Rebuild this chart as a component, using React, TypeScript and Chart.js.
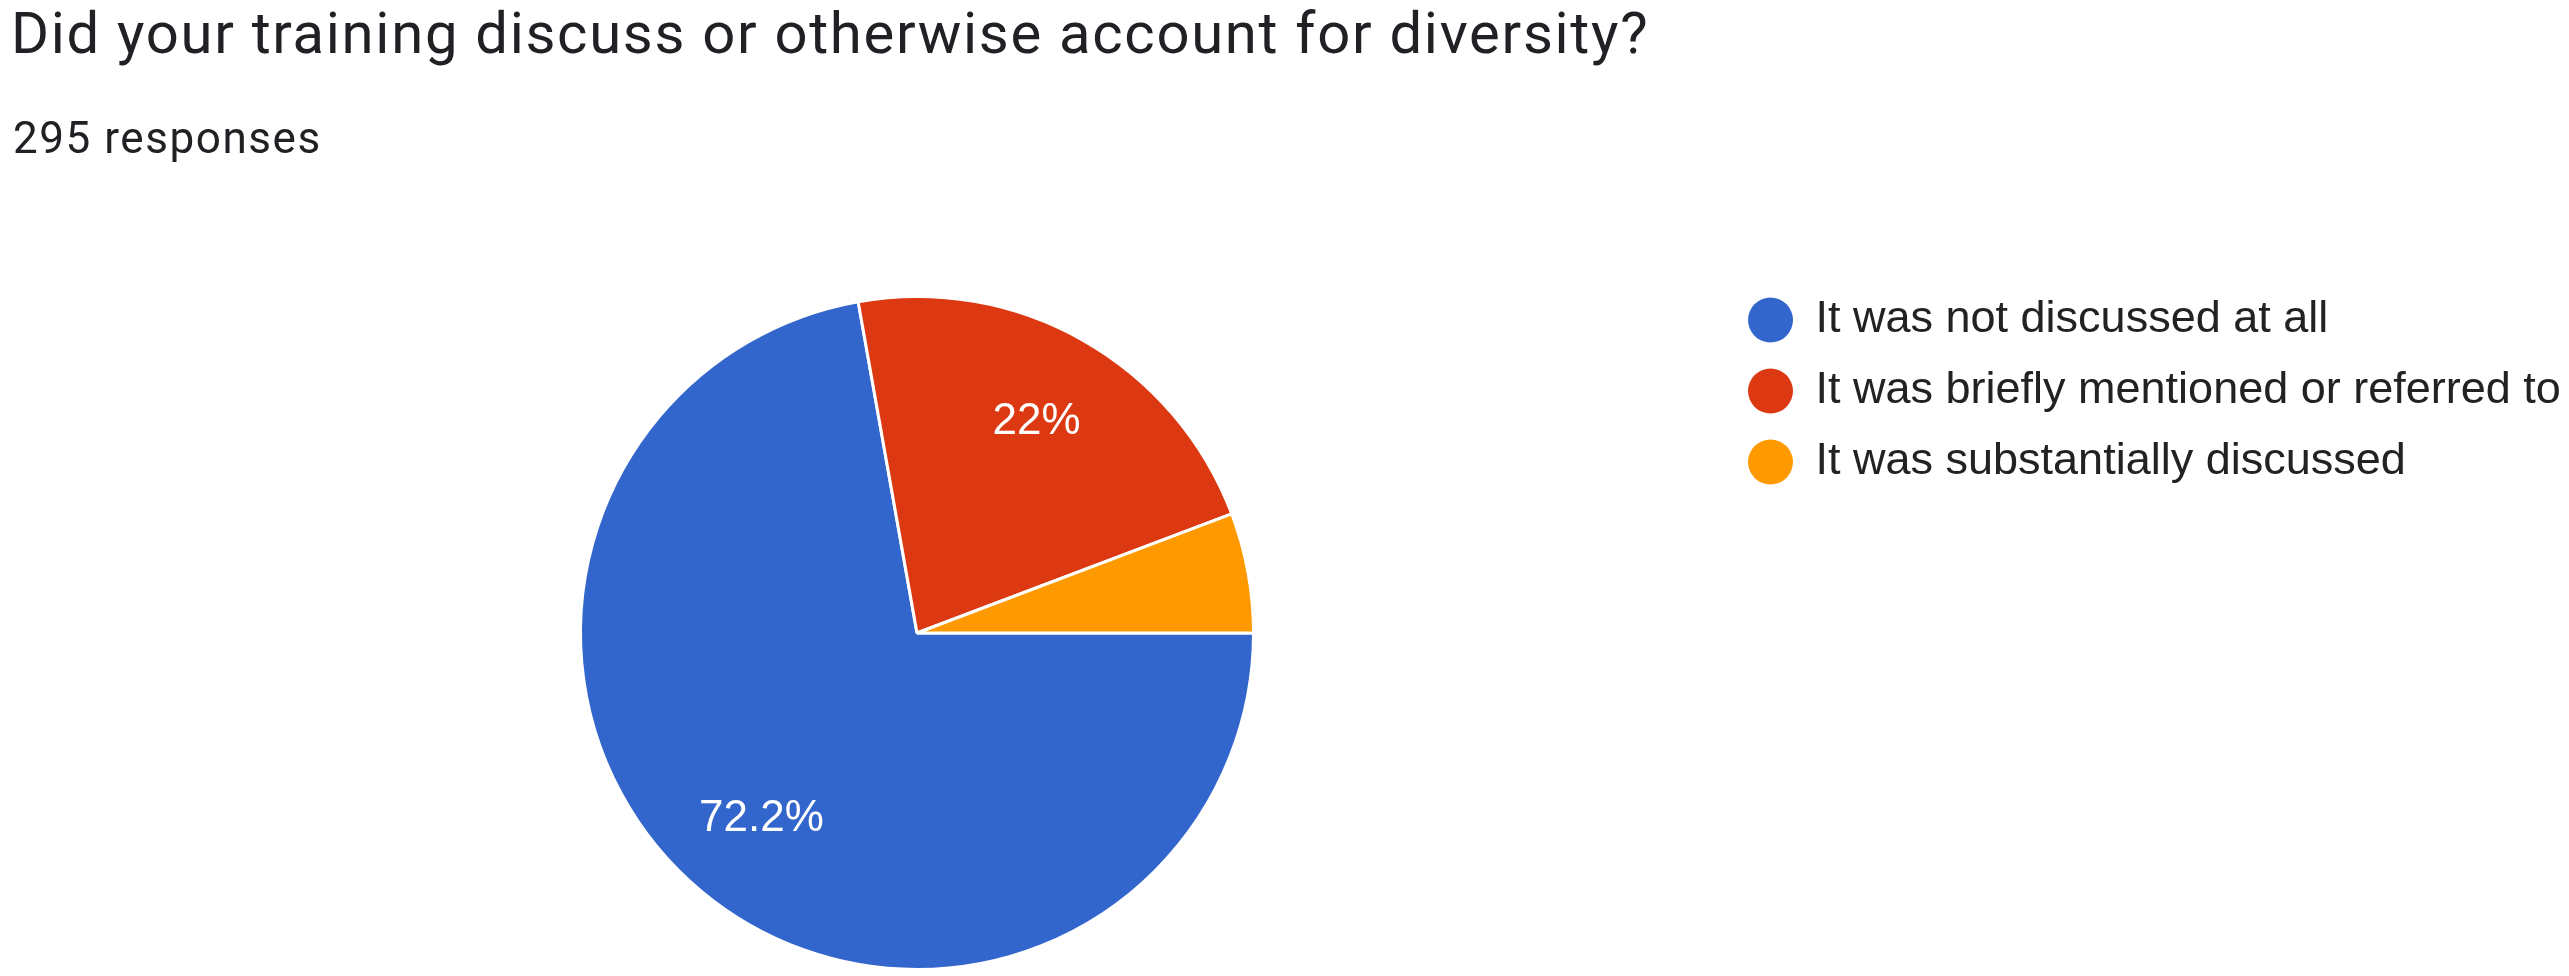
import React, { useEffect, useRef } from "react";
import { Chart, registerables, DoughnutController } from "chart.js";

Chart.register(...registerables);

const TITLE = "Did your training discuss or otherwise account for diversity?";
const SUBTITLE = "295 responses";
const categories = [
  "It was not discussed at all",
  "It was briefly mentioned or referred to",
  "It was substantially discussed",
];
const responseCounts = [213, 65, 17];
const sliceColors = ["#3366CC", "#DC3912", "#FF9900"];

const CANVAS_W = 2600;
const CANVAS_H = 1000;
const LEGEND_FONT_SIZE = 45;
const LEGEND_ROW_PAD = 26;
const LEGEND_BOX = 45;
const PIE_CX = 917;
const PIE_CY = 633;
const PIE_RADIUS = 336.5;
const LEGEND_TOP = 271.5;
const LEGEND_CIRCLE_CX = 1770.5;
const FONT_FAMILY = "'Liberation Sans', Arial, sans-serif";

const sliceLabelPlugin = {
  id: "sliceLabels",
  afterDatasetsDraw(chart: any) {
    const meta = chart.getDatasetMeta(0);
    const values = chart.data.datasets[0].data as number[];
    const total = values.reduce((a, b) => a + b, 0);
    const ctx = chart.ctx as CanvasRenderingContext2D;
    ctx.save();
    ctx.font = `44px ${FONT_FAMILY}`;
    ctx.fillStyle = "#ffffff";
    ctx.textAlign = "center";
    ctx.textBaseline = "middle";
    meta.data.forEach((arc: any, i: number) => {
      const pct = (values[i] / total) * 100;
      if (pct < 10) return;
      const p = arc.getProps(["x", "y", "startAngle", "endAngle", "outerRadius"], true);
      const mid = (p.startAngle + p.endAngle) / 2;
      const r = p.outerRadius * 0.72;
      ctx.fillText(`${+pct.toFixed(1)}%`, p.x + Math.cos(mid) * r, p.y + Math.sin(mid) * r);
    });
    ctx.restore();
  },
};

function PieChart() {
  const ref = useRef<HTMLCanvasElement | null>(null);
  useEffect(() => {
    const canvas = ref.current!;
    const mctx = canvas.getContext("2d")!;
    mctx.font = `normal ${LEGEND_FONT_SIZE}px ${FONT_FAMILY}`;
    const maxTextW = Math.max(...categories.map((c) => mctx.measureText(c).width));
    const legendLeft = LEGEND_CIRCLE_CX - LEGEND_BOX / 2 - LEGEND_ROW_PAD;
    const legendW = LEGEND_ROW_PAD + LEGEND_BOX + LEGEND_FONT_SIZE / 2 + maxTextW + 10;
    const padLeft = 2 * PIE_CX - legendLeft;
    const padRight = CANVAS_W - legendLeft - legendW;
    const padTop = LEGEND_TOP;
    const padBottom = CANVAS_H - (2 * PIE_CY - LEGEND_TOP);

    const baseGen = (DoughnutController as any).overrides.plugins.legend.labels.generateLabels;

    const chart = new Chart(canvas, {
      type: "pie",
      data: {
        labels: categories,
        datasets: [
          {
            data: responseCounts,
            backgroundColor: sliceColors,
            borderColor: "#ffffff",
            borderWidth: 3,
            radius: PIE_RADIUS,
          } as any,
        ],
      },
      options: {
        responsive: false,
        animation: false,
        rotation: 90,
        layout: { padding: { left: padLeft, right: padRight, top: padTop, bottom: padBottom } },
        plugins: {
          tooltip: { enabled: false },
          legend: {
            position: "right",
            align: "start",
            labels: {
              usePointStyle: true,
              pointStyle: "circle",
              pointStyleWidth: LEGEND_BOX,
              boxHeight: (LEGEND_BOX / 2) * Math.SQRT2,
              padding: LEGEND_ROW_PAD,
              color: "#222222",
              font: { size: LEGEND_FONT_SIZE, family: FONT_FAMILY },
              generateLabels: (c: any) =>
                baseGen(c).map((l: any) => ({ ...l, lineWidth: 0, strokeStyle: "rgba(0,0,0,0)" })),
            },
          },
        },
      } as any,
      plugins: [sliceLabelPlugin],
    });
    return () => chart.destroy();
  }, []);
  return (
    <canvas
      ref={ref}
      width={CANVAS_W}
      height={CANVAS_H}
      style={{ position: "absolute", left: 0, top: 0 }}
    />
  );
}

export default function App() {
  return (
    <div
      style={{
        position: "fixed",
        left: 0,
        top: 0,
        width: 2569,
        height: 976,
        overflow: "hidden",
        background: "#ffffff",
      }}
    >
      <PieChart />
      <div
        style={{
          position: "absolute",
          left: 11,
          top: 4,
          fontFamily: "Roboto, sans-serif",
          fontSize: 58,
          lineHeight: "58px",
          color: "#202124",
          whiteSpace: "nowrap",
          letterSpacing: "1.7px",
        }}
      >
        {TITLE}
      </div>
      <div
        style={{
          position: "absolute",
          left: 13,
          top: 116,
          fontFamily: "Roboto, sans-serif",
          fontSize: 44,
          lineHeight: "44px",
          color: "#202124",
          whiteSpace: "nowrap",
          letterSpacing: "1.55px",
        }}
      >
        {SUBTITLE}
      </div>
    </div>
  );
}
